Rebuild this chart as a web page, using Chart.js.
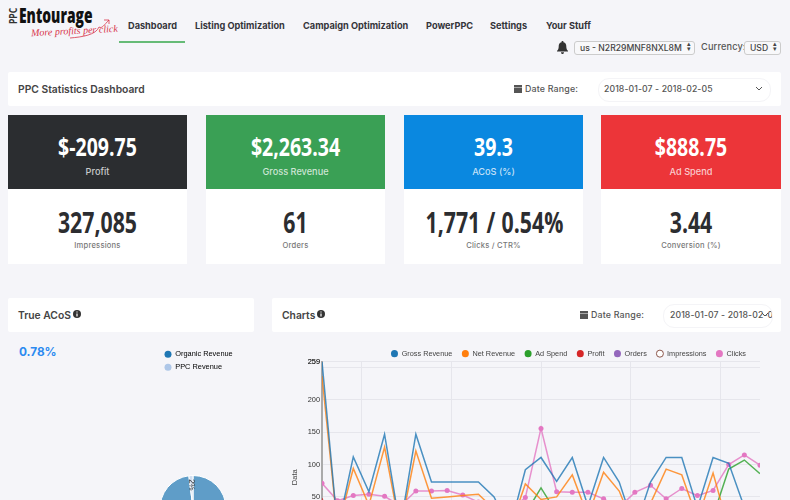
<!DOCTYPE html>
<html>
<head>
<meta charset="utf-8">
<script src="https://cdn.jsdelivr.net/npm/chart.js@4/dist/chart.umd.min.js"></script>
<style>
    html, body { margin: 0; padding: 0; width: 790px; height: 500px; overflow: hidden; background: #f5f5f9; }
    body { position: relative; font-family: Inter, sans-serif; color: #3a3a3e; }
    .abs { position: absolute; white-space: nowrap; }
    .nav { top: 20px; font-size: 9.2px; font-weight: 700; color: #34343a; line-height: 12px; }
    .panel { position: absolute; background: #fff; border-radius: 2px; }
    .heading { font-size: 10.3px; font-weight: 600; color: #444; line-height: 14px; }
    .mini { font-size: 8.9px; font-weight: 500; color: #555; line-height: 12px; letter-spacing: .15px; }
    .date { font-size: 8.7px; font-weight: 500; color: #555; line-height: 12px; letter-spacing: .1px; }
    .pill { position: absolute; border: 1px solid #f4f4f7; border-radius: 11px; background: #fff; }
    .select { position: absolute; border: 1px solid #ccc; border-radius: 3px; background: #f8f8fa; height: 12px; line-height: 12px; font-size: 8.6px; font-weight: 500; color: #444; padding-left: 5px; box-sizing: content-box; }
    .card { position: absolute; top: 115px; width: 179px; height: 149px; background: #fff; text-align: center; }
    .card .top { height: 74px; color: #fff; }
    .num { font-family: "Open Sans", sans-serif; font-weight: 700; line-height: 30px; white-space: nowrap; }
    .card .top .num { font-size: 25px; padding-top: 16px; transform: scaleX(.78); }
    .card .bottom .num { font-size: 28px; padding-top: 18px; color: #2c2d30; transform: scaleX(.76); }
    .card .lab { font-weight: 500; line-height: 12px; }
    .card .top .lab { font-size: 9.2px; color: rgba(255,255,255,.75); margin-top: 5px; }
    .card .bottom .lab { font-size: 7.6px; letter-spacing: .2px; color: #777; margin-top: 3px; }
    canvas { position: absolute; }
</style>
</head>
<body>
    <!-- logo -->
    <div class="abs" style="left:4px;top:9px;font:700 10px/14px 'Open Sans';transform:rotate(-90deg) scaleX(.85);color:#333;">PPC</div>
    <div class="abs" style="left:19px;top:5px;font:800 21px/21px 'Open Sans';color:#111;transform:scaleX(.66);transform-origin:left;">Entourage</div>
    <div class="abs" style="left:31px;top:25px;font:italic 400 10px/12px 'Liberation Serif';color:#d8344a;transform:rotate(-3deg);">More profits per click</div>
    <svg class="abs" style="left:68px;top:17px;" width="44" height="24"><path d="M2 21 C14 20 28 18 31 10 C34 12 36 8 41 3 M36 3 L41 3 L41 7" fill="none" stroke="#d8344a" stroke-width=".8"/></svg>

    <!-- nav -->
    <div class="abs nav" style="left:128px;">Dashboard</div>
    <div class="abs nav" style="left:195px;">Listing Optimization</div>
    <div class="abs nav" style="left:303px;">Campaign Optimization</div>
    <div class="abs nav" style="left:426px;">PowerPPC</div>
    <div class="abs nav" style="left:490px;">Settings</div>
    <div class="abs nav" style="left:546px;">Your Stuff</div>
    <div class="abs" style="left:119px;top:41px;width:66px;height:1.5px;background:#66bb77;"></div>

    <svg class="abs" style="left:557px;top:41px;" width="11" height="13" viewBox="0 0 11 13"><path d="M5.5 0 C6.3 0 6.5 .6 6.5 1.2 C8.6 1.7 9.3 3.4 9.3 5.4 C9.3 7.8 10 8.8 11 9.8 L11 10.6 L0 10.6 L0 9.8 C1 8.8 1.7 7.8 1.7 5.4 C1.7 3.4 2.4 1.7 4.5 1.2 C4.5 .6 4.7 0 5.5 0 Z M4 11.2 L7 11.2 C7 12.2 6.3 13 5.5 13 C4.7 13 4 12.2 4 11.2 Z" fill="#333"/></svg>
    <div class="select" style="left:574px;top:41px;width:114px;">us - N2R29MNF8NXL8M</div>
    <div class="abs" style="left:687px;top:42px;font:7px/5px 'DejaVu Sans';color:#444;">▴<br>▾</div>
    <div class="abs mini" style="left:701px;top:41px;font-size:9.2px;">Currency:</div>
    <div class="select" style="left:744px;top:41px;width:30px;">USD</div>
    <div class="abs" style="left:773px;top:42px;font:7px/5px 'DejaVu Sans';color:#444;">▴<br>▾</div>

    <!-- header panel -->
    <div class="panel" style="left:8px;top:72px;width:773px;height:34px;"></div>
    <div class="abs heading" style="left:18px;top:82px;">PPC Statistics Dashboard</div>
    <svg class="abs" style="left:514px;top:84px;" width="8" height="9"><path d="M0 1h8v2H0z M0 3.6h8V9H0z" fill="#555"/></svg>
    <div class="abs mini" style="left:525px;top:83px;">Date Range:</div>
    <div class="pill" style="left:598px;top:78px;width:171px;height:22px;"></div>
    <div class="abs date" style="left:604px;top:83px;">2018-01-07 - 2018-02-05</div>
    <svg class="abs" style="left:755px;top:86px;" width="8" height="5"><path d="M1 1 L4 4 L7 1" fill="none" stroke="#555" stroke-width="1"/></svg>

    <!-- stat cards -->
    <div class="card" style="left:8px;">
        <div class="top" style="background:#2b2d30;"><div class="num">$-209.75</div><div class="lab">Profit</div></div>
        <div class="bottom"><div class="num">327,085</div><div class="lab">Impressions</div></div>
    </div>
    <div class="card" style="left:206px;">
        <div class="top" style="background:#3aa055;"><div class="num">$2,263.34</div><div class="lab">Gross Revenue</div></div>
        <div class="bottom"><div class="num">61</div><div class="lab">Orders</div></div>
    </div>
    <div class="card" style="left:404px;">
        <div class="top" style="background:#0a88e0;"><div class="num">39.3</div><div class="lab">ACoS (%)</div></div>
        <div class="bottom"><div class="num" style="word-spacing:1px;">1,771 / 0.54%</div><div class="lab">Clicks / CTR%</div></div>
    </div>
    <div class="card" style="left:601px;width:180px;">
        <div class="top" style="background:#ec3539;"><div class="num">$888.75</div><div class="lab">Ad Spend</div></div>
        <div class="bottom"><div class="num">3.44</div><div class="lab">Conversion (%)</div></div>
    </div>

    <!-- lower panels -->
    <div class="panel" style="left:8px;top:298px;width:246px;height:34px;"></div>
    <div class="abs heading" style="left:18px;top:308px;">True ACoS</div>
    <svg class="abs" style="left:73px;top:310px;" width="8" height="8"><circle cx="4" cy="4" r="4" fill="#333"/><path d="M3.4 1.4h1.2v1.2H3.4z M3.4 3.4h1.2v3.2H3.4z" fill="#fff"/></svg>
    <div class="abs" style="left:19px;top:345px;font-size:11.8px;line-height:14px;font-weight:700;color:#2c8af0;">0.78%</div>

    <div class="panel" style="left:272px;top:298px;width:509px;height:34px;"></div>
    <div class="abs heading" style="left:282px;top:308px;">Charts</div>
    <svg class="abs" style="left:317px;top:310px;" width="8" height="8"><circle cx="4" cy="4" r="4" fill="#333"/><path d="M3.4 1.4h1.2v1.2H3.4z M3.4 3.4h1.2v3.2H3.4z" fill="#fff"/></svg>
    <svg class="abs" style="left:580px;top:310px;" width="8" height="9"><path d="M0 1h8v2H0z M0 3.6h8V9H0z" fill="#555"/></svg>
    <div class="abs mini" style="left:591px;top:309px;">Date Range:</div>
    <div class="pill" style="left:663px;top:304px;width:108px;height:22px;overflow:hidden;">
        <div class="abs date" style="left:6px;top:4px;">2018-01-07 - 2018-02-05</div>
    </div>
    <svg class="abs" style="left:761px;top:312px;" width="8" height="5"><path d="M1 1 L4 4 L7 1" fill="none" stroke="#555" stroke-width="1"/></svg>

    <canvas id="pieChart" width="130" height="291" style="left:128px;top:345px;"></canvas>
    <canvas id="lineChart" width="518" height="264" style="left:272px;top:335px;"></canvas>

<script>
// Data (values under the fold are estimates)
const pieLabels = ['Organic Revenue', 'PPC Revenue'];
const pieValues = [98, 2];

const seriesNames = ['Gross Revenue', 'Net Revenue', 'Ad Spend', 'Profit', 'Orders', 'Impressions', 'Clicks'];
const grossRevenue = [259, 0, 112, 58, 147, 2, 147, 73, 73, 73, 73, 50, 0, 92, 111, 74, 111, 36, 111, 73, 0, 73, 111, 111, 33, 111, 102, 34, 20];
const netRevenue = [237, 0, 94, 37, 127, 0, 121, 48, 50, 52, 54, 31, 0, 70, 46, 50, 84, 20, 88, 59, 0, 40, 93, 84, 15, 87, 0, 0, 0];
const adSpend = [22, 30, 18, 21, 20, 24, 26, 25, 23, 21, 19, 17, 20, 24, 64, 25, 27, 16, 23, 14, 18, 33, 18, 27, 18, 20, 93, 107, 86];
const profit = [48, -30, 10, -18, 16, -24, 14, -5, -3, -1, 2, -8, -20, 6, -18, -4, 10, -10, 12, 4, -18, -14, 20, 10, -22, 14, -90, -94, -86];
const orders = [3, 0, 3, 1, 4, 0, 4, 2, 2, 2, 2, 1, 0, 2, 3, 2, 3, 1, 3, 2, 0, 2, 3, 3, 1, 3, 3, 1, 1];
const impressions = [];
const clicks = [71, 44, 52, 54, 51, 36, 59, 59, 60, 53, 42, 35, 30, 49, 156, 58, 57, 57, 47, 34, 57, 68, 47, 63, 52, 60, 100, 115, 99];

const solidColors = ['#1f77b4', '#ff7f0e', '#2ca02c', '#d62728', '#9467bd', '#ffffff', '#e377c2'];
const lineColors = ['#1f77b4', '#ff7f0e', '#2ca02c', '#d62728', '#9467bd', '#8c564b', '#e377c2'];
const seriesValues = [grossRevenue, netRevenue, adSpend, profit, orders, impressions, clicks];
const pointSizes = [0, 0, 0, 0, 0, 0, 2.5];

// 259 is listed twice: the top label is drawn over itself and comes out bold, as in the picture
const yTicks = [-50, 0, 50, 100, 150, 200, 250, 259, 259];
const yUnlabelled = 250;
const xGridTicks = [2.5, 8.26, 14, 19.74, 25.5];

Chart.defaults.font.family = '"Liberation Sans", Arial, sans-serif';
Chart.defaults.animation = false;

// moves the legend after layout, the plot area stays where it is
const legendNudge = {
    id: 'legendNudge',
    afterLayout(chart, args, opts) {
        chart.legend.left += opts.dx;
        chart.legend.right += opts.dx;
        chart.legend.top += opts.dy;
        chart.legend.bottom += opts.dy;
    }
};

// percent label along the small slice
const sliceLabel = {
    id: 'sliceLabel',
    afterDatasetsDraw(chart) {
        const arc = chart.getDatasetMeta(0).data[1];
        const p = arc.getProps(['x', 'y', 'startAngle', 'endAngle', 'outerRadius']);
        const mid = (p.startAngle + p.endAngle) / 2;
        const ctx = chart.ctx;
        ctx.save();
        ctx.translate(p.x + Math.cos(mid) * p.outerRadius * 0.72, p.y + Math.sin(mid) * p.outerRadius * 0.72);
        ctx.rotate(mid + Math.PI);
        ctx.font = '8px "Liberation Sans"';
        ctx.fillStyle = '#333';
        ctx.textAlign = 'center';
        ctx.textBaseline = 'middle';
        ctx.fillText(pieValues[1] + '%', 0, 0);
        ctx.restore();
    }
};

new Chart(document.getElementById('pieChart'), {
    type: 'pie',
    plugins: [legendNudge, sliceLabel],
    data: {
        labels: pieLabels,
        datasets: [{
            data: pieValues,
            backgroundColor: ['rgba(31,119,180,0.7)', 'rgba(174,199,232,0.5)'],
            borderColor: '#ffffff',
            borderWidth: 1,
            radius: 33
        }]
    },
    options: {
        responsive: false,
        plugins: {
            tooltip: { enabled: false },
            legendNudge: { dx: 30.9, dy: 0 },
            legend: {
                position: 'top',
                align: 'start',
                labels: {
                    usePointStyle: true,
                    pointStyle: 'circle',
                    pointStyleWidth: 7,
                    boxHeight: 5,
                    padding: 5.6,
                    color: '#444',
                    font: { size: 7.4 },
                    generateLabels() {
                        return pieLabels.map((text, i) => ({
                            text: text,
                            fillStyle: i === 0 ? '#1f77b4' : '#aec7e8',
                            strokeStyle: i === 0 ? '#1f77b4' : '#aec7e8',
                            lineWidth: 0,
                            pointStyle: 'circle',
                            index: i
                        }));
                    }
                }
            }
        }
    }
});

new Chart(document.getElementById('lineChart'), {
    type: 'line',
    plugins: [legendNudge],
    data: {
        datasets: seriesNames.map((name, s) => ({
            label: name,
            data: seriesValues[s].map((v, i) => ({ x: i, y: v })),
            borderColor: lineColors[s] + 'cc',
            backgroundColor: solidColors[s],
            pointBackgroundColor: s === 5 ? solidColors[s] : lineColors[s],
            pointBorderColor: lineColors[s],
            pointBorderWidth: s === 5 ? 1 : 0,
            borderWidth: 1.5,
            pointRadius: pointSizes[s],
            tension: 0
        }))
    },
    options: {
        responsive: false,
        layout: { padding: { left: 18, right: 30 } },
        plugins: {
            tooltip: { enabled: false },
            legendNudge: { dx: 43.5, dy: 5.5 },
            legend: {
                position: 'top',
                labels: {
                    usePointStyle: true,
                    pointStyle: 'circle',
                    pointStyleWidth: 7,
                    boxHeight: 5,
                    padding: 9.5,
                    color: '#444',
                    font: { size: 7.3 }
                }
            }
        },
        scales: {
            x: {
                type: 'linear',
                min: 0,
                max: 28,
                afterBuildTicks(scale) {
                    scale.ticks = xGridTicks.map(v => ({ value: v }));
                },
                ticks: { display: false },
                grid: { color: '#e6e6ec', drawTicks: false },
                border: { display: false }
            },
            y: {
                min: -98,
                max: 259,
                afterBuildTicks(scale) {
                    scale.ticks = yTicks.map(v => ({ value: v }));
                },
                afterFit(scale) { scale.width = 32; },
                ticks: {
                    autoSkip: false,
                    padding: 2,
                    color: '#333',
                    font: { size: 7.4 },
                    callback: value => (value === yUnlabelled ? '' : value)
                },
                title: { display: true, text: 'Data', color: '#444', font: { size: 7.6 }, padding: 0 },
                grid: { color: '#e6e6ec', drawTicks: false },
                border: { color: '#aaaaaa', width: 2 }
            }
        }
    }
});
</script>
</body>
</html>
